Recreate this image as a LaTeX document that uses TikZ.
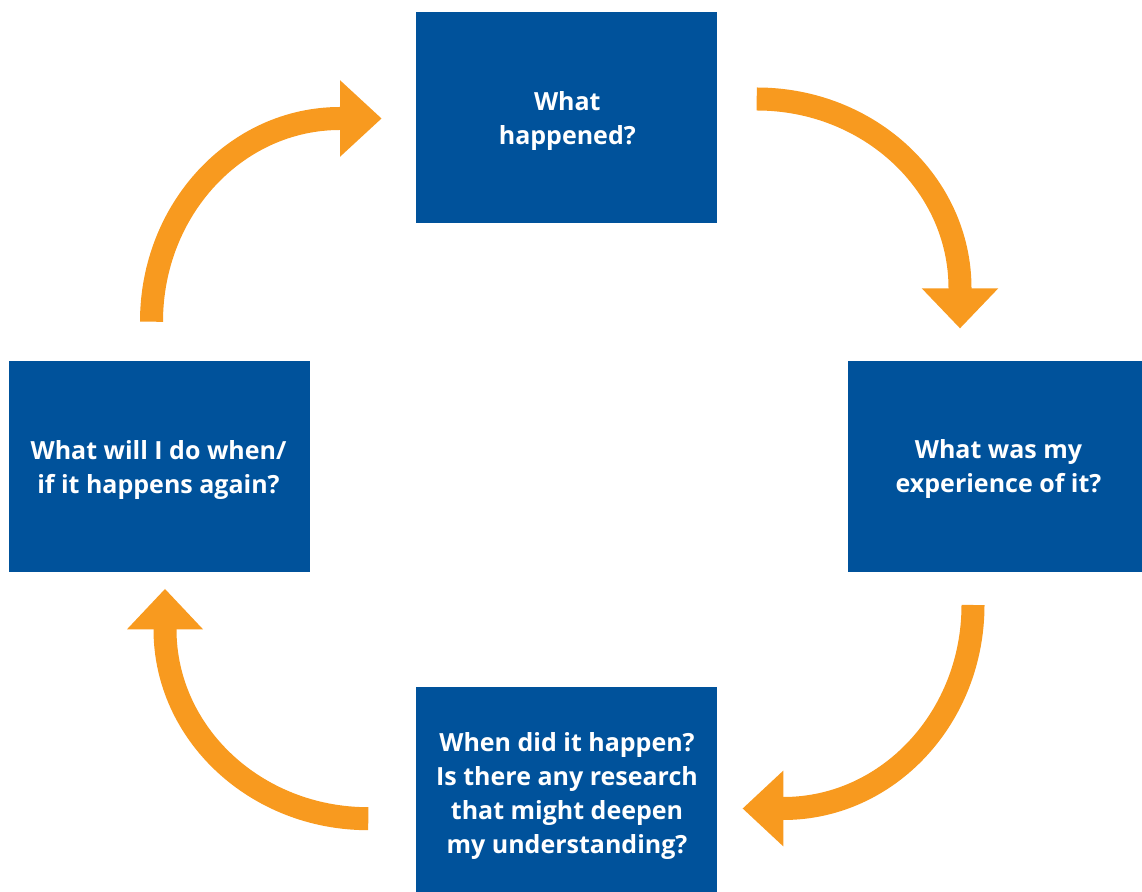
\documentclass[tikz,border=0pt]{standalone}
\usepackage{fontspec}
\setmainfont{Open Sans}
\definecolor{boxblue}{HTML}{00529B}
\definecolor{arroworange}{HTML}{F89A1F}
\begin{document}
\begin{tikzpicture}[x=1pt,y=1pt,
  box/.style={fill=boxblue, draw=none, minimum width=300.7pt, minimum height=211.3pt, inner sep=0pt},
  boxtext/.style={text=white, align=center, inner sep=0pt, font=\fontsize{25}{34}\selectfont\bfseries},
  arcline/.style={draw=arroworange, line width=23pt},
  tiphead/.style={fill=arroworange, draw=none}]
\useasboundingbox (0,0) rectangle (1142,891);
\clip (0,0) rectangle (1142,891);

% boxes
\node[box] (b1) at (566.3,773.3) {};
\node[box] (b2) at (998.5,424.2) {};
\node[box] (b3) at (566.3,98.7) {};
\node[box] (b4) at (159.5,424.2) {};

% texts
\node[boxtext] (t1) at ([xshift=1,yshift=-3.5]b1.center) {What\\happened?};
\node[boxtext] (t2) at ([yshift=-2]b2.center) {What was my\\experience of it?};
\node[boxtext] (t3) at ([xshift=0.7,yshift=-3.7]b3.center) {When did it happen?\\Is there any research\\that might deepen\\my understanding?};
\node[boxtext] (t4) at ([xshift=-1,yshift=-3]b4.center) {What will I do when/\\if it happens again?};

% arrow 1: left -> top
\coordinate (a1s) at (151.5,569.3);
\coordinate (a1e) at (340,772.5);
\coordinate (a1t) at (381.5,772.5);
\draw[arcline] (a1s) arc[start angle=180,end angle=90,x radius=188.5,y radius=203.2] -- ++(2,0);
\fill[tiphead] ([yshift=38.3]a1e) -- (a1t) -- ([yshift=-38.3]a1e) -- cycle;

% arrow 2: top -> right
\coordinate (a2s) at (756.7,792);
\coordinate (a2e) at (960,602.7);
\coordinate (a2t) at (960,562.7);
\draw[arcline] (a2s) arc[start angle=90,end angle=0,x radius=203.3,y radius=189.3] -- ++(0,-2);
\fill[tiphead] ([xshift=-38.3]a2e) -- (a2t) -- ([xshift=38.3]a2e) -- cycle;

% arrow 3: right -> bottom
\coordinate (a3s) at (973,286);
\coordinate (a3e) at (783.3,82.5);
\coordinate (a3t) at (742.7,82.5);
\draw[arcline] (a3s) arc[start angle=0,end angle=-90,x radius=189.7,y radius=203.5] -- ++(-2,0);
\fill[tiphead] ([yshift=37.9]a3e) -- (a3t) -- ([yshift=-37.9]a3e) -- cycle;

% arrow 4: bottom -> left
\coordinate (a4s) at (368.3,72.3);
\coordinate (a4e) at (165,261.7);
\coordinate (a4t) at (165,302);
\draw[arcline] (a4s) arc[start angle=270,end angle=180,x radius=203.3,y radius=189.4] -- ++(0,2);
\fill[tiphead] ([xshift=-38]a4e) -- (a4t) -- ([xshift=38]a4e) -- cycle;
\end{tikzpicture}
\end{document}
